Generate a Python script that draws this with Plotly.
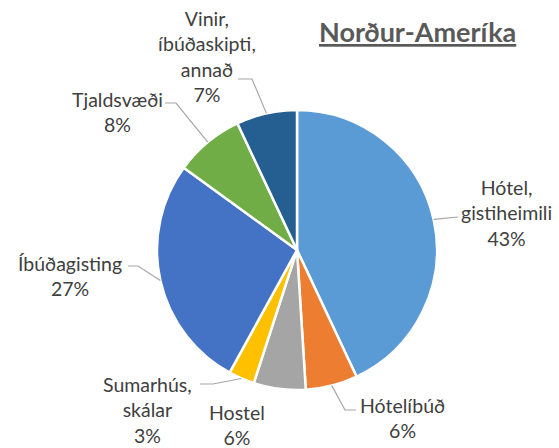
import math
import plotly.graph_objects as go

# Accommodation types for visitors from North America (share, %)
labels = ["Hótel,<br>gistiheimili", "Hótelíbúð", "Hostel", "Sumarhús,<br>skálar",
          "Íbúðagisting", "Tjaldsvæði", "Vinir,<br>íbúðaskipti,<br>annað"]
values = [43, 6, 6, 3, 27, 8, 7]
colors = ["#5B9BD5", "#ED7D31", "#A5A5A5", "#FFC000", "#4472C4", "#70AD47", "#255E91"]

W, H = 559, 448
CX, CY, R = 297, 250, 140          # pie centre and radius in pixels

# label block centre (px) and leader-line end near the text (px); None = no leader
label_pos = [(507, 213), (403, 418), (237, 425), (147, 410), (70, 276), (117, 112), (207, 56)]
leader_end = [(458, 217), (356, 410), None, (200, 384), (128, 266), (165, 103), (238, 79)]
elbow_len = [0, 11, 0, 13, 10, 11, 14]


def px(x):
    return x / W


def py(y):
    return 1 - y / H


fig = go.Figure(go.Pie(
    labels=[l.replace("<br>", " ") for l in labels],
    values=values,
    sort=False,
    direction="clockwise",
    rotation=0,
    marker=dict(colors=colors, line=dict(color="white", width=2.5)),
    textinfo="none",
    hoverinfo="label+percent",
    showlegend=False,
    domain=dict(x=[px(CX - R), px(CX + R)], y=[py(CY + R), py(CY - R)]),
))

font = dict(family="Lato, 'Noto Sans', sans-serif", size=19.5, color="#404040")
annotations = []
shapes = []
total = sum(values)
cum = 0
for lab, v, pos, end, el in zip(labels, values, label_pos, leader_end, elbow_len):
    mid = (cum + v / 2) / total * 2 * math.pi
    cum += v
    annotations.append(dict(
        x=px(pos[0]), y=py(pos[1]), xref="paper", yref="paper",
        text=f"{lab}<br>{v}%", showarrow=False, align="center",
        xanchor="center", yanchor="middle", font=font,
    ))
    if end is None:
        continue
    # leader line: slice edge at mid-angle -> elbow -> horizontal run to the text
    sx, sy = CX + R * math.sin(mid), CY - R * math.cos(mid)
    side = 1 if end[0] > CX else -1
    ex, ey = end[0] - side * el, end[1]
    path = (f"M {px(sx)},{py(sy)} L {px(ex)},{py(ey)} L {px(end[0])},{py(end[1])}")
    shapes.append(dict(type="path", xref="paper", yref="paper", path=path,
                       line=dict(color="#A6A6A6", width=1.2)))

annotations.append(dict(
    x=px(417), y=py(32), xref="paper", yref="paper", showarrow=False,
    text="<b>Norður-Ameríka</b>", xanchor="center", yanchor="middle",
    font=dict(family="Lato, 'Noto Sans', sans-serif", size=27, color="#595959",
              lineposition="under"),
))

fig.update_layout(
    width=W, height=H,
    margin=dict(l=0, r=0, t=0, b=0),
    paper_bgcolor="white", plot_bgcolor="white",
    annotations=annotations, shapes=shapes,
)

fig.write_html("out.html")
